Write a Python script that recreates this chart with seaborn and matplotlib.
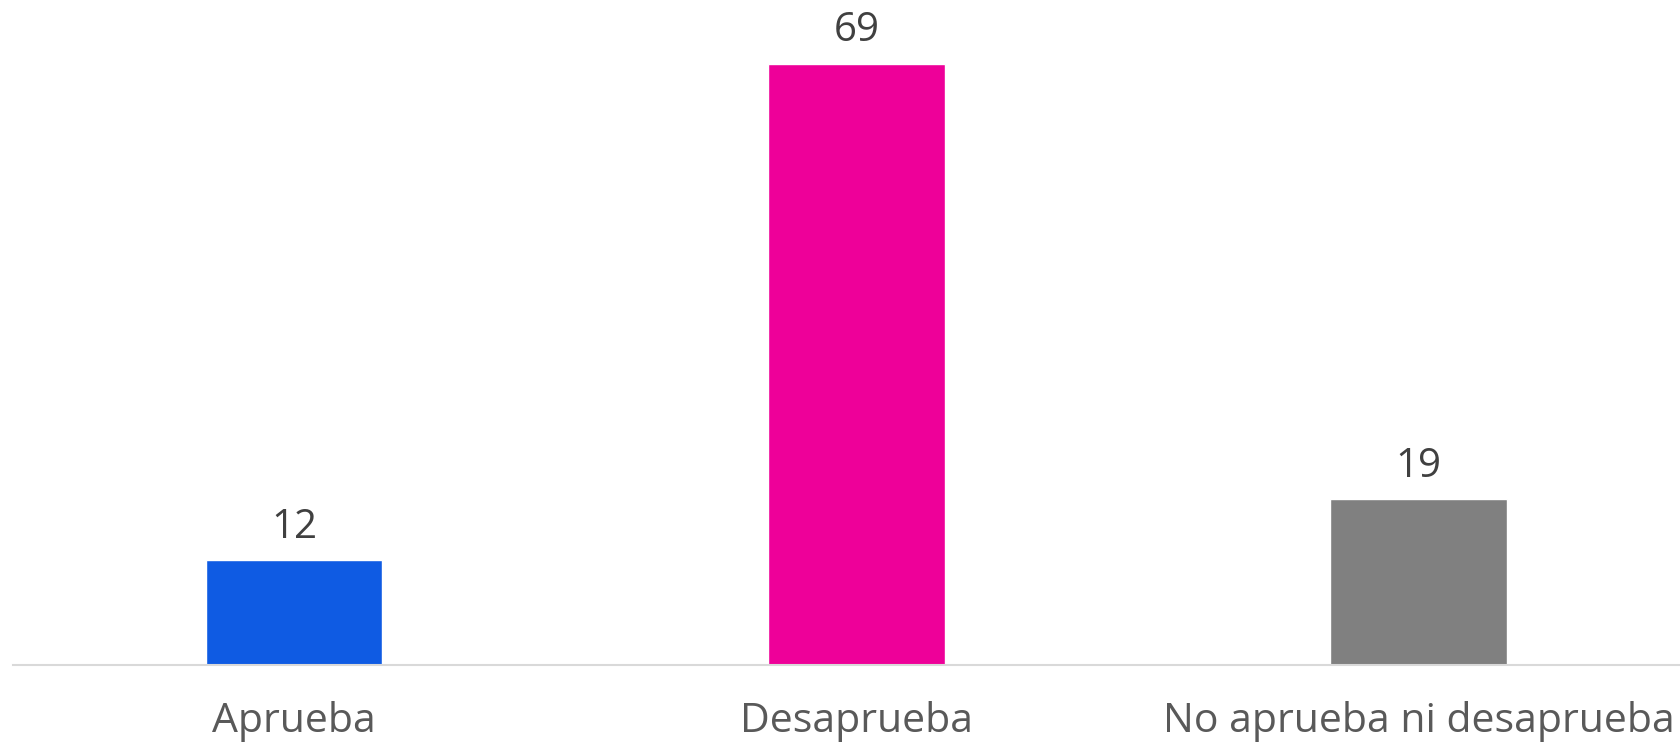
import matplotlib
matplotlib.use("Agg")
import matplotlib.pyplot as plt
import seaborn as sns
import pandas as pd

categories = ["Aprueba", "Desaprueba", "No aprueba ni desaprueba"]
values = [12, 69, 19]
colors = ["#0f5be3", "#ee0099", "#808080"]

sns.set_theme(style="white")
plt.rcParams["font.family"] = ["Open Sans", "DejaVu Sans"]

W, H = 1681, 742
fig = plt.figure(figsize=(W / 100, H / 100), dpi=100)
ax = fig.add_axes([13 / W, 77 / H, (W - 13) / W, (H - 77) / H])

df = pd.DataFrame({"cat": categories, "val": values})
sns.barplot(data=df, x="cat", y="val", hue="cat", palette=colors,
            width=0.314, legend=False, ax=ax, saturation=1)

ax.set_xlim(-0.5, 2.467)
ax.set_ylim(0, 76.3)
ax.set_xlabel("")
ax.set_ylabel("")
ax.set_yticks([])
for s in ["top", "left", "right"]:
    ax.spines[s].set_visible(False)
ax.spines["bottom"].set_color("#d9d9d9")
ax.spines["bottom"].set_linewidth(1.5)
ax.tick_params(axis="x", length=0, pad=26, labelsize=29.5, labelcolor="#595959")

for container in ax.containers:
    ax.bar_label(container, fmt="%d", padding=9, fontsize=29, color="#404040")

fig.savefig("out.png", dpi=100)
